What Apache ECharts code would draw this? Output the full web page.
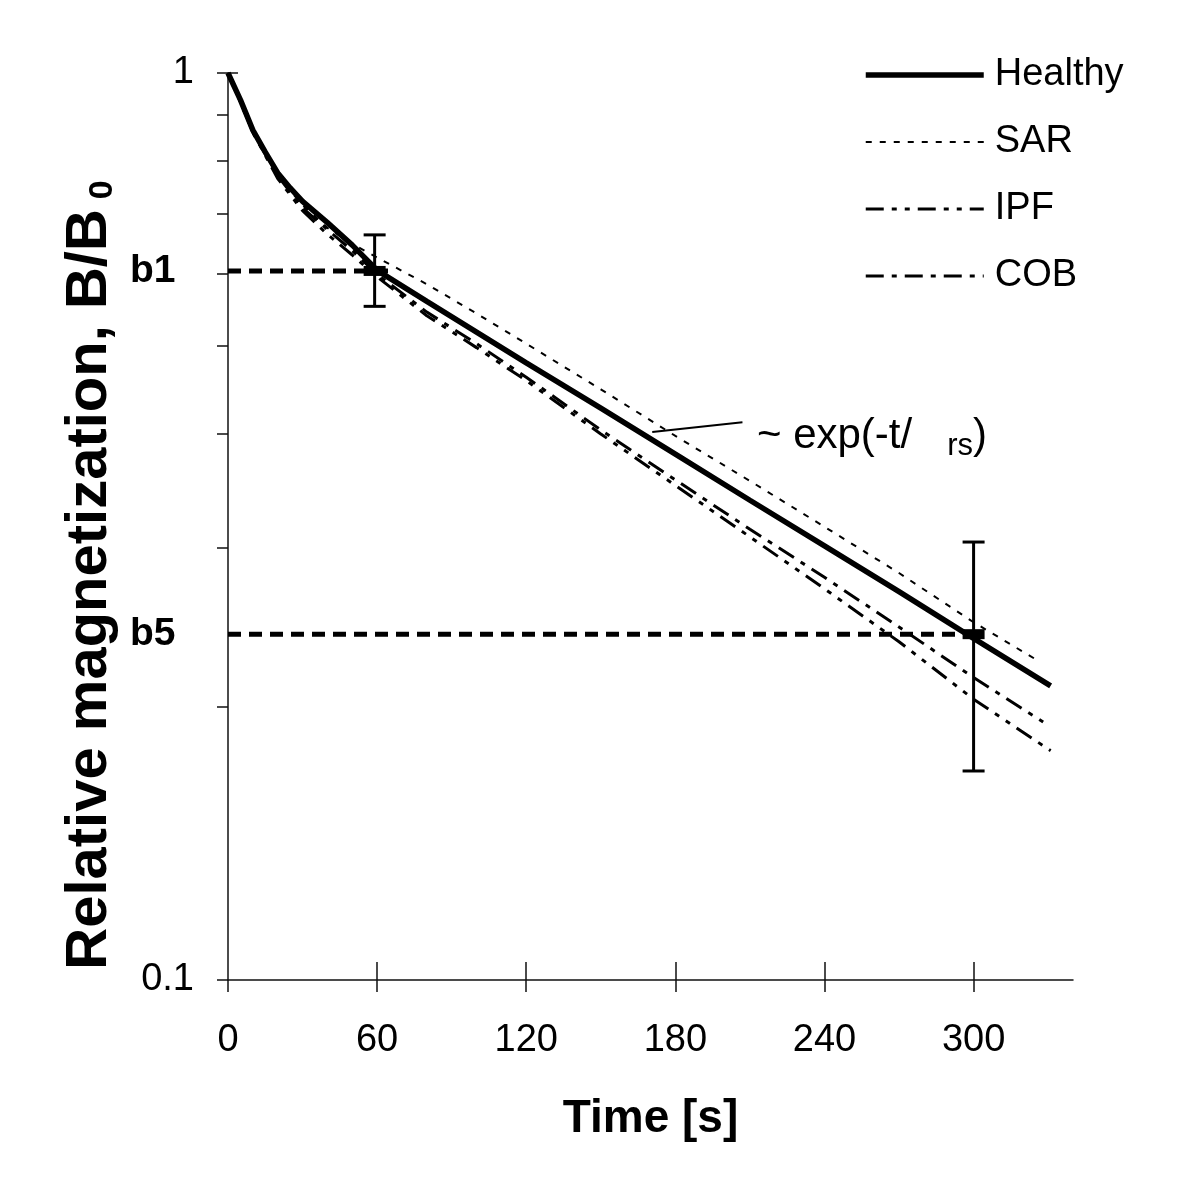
<!DOCTYPE html>
<html><head><meta charset="utf-8">
<script src="https://cdn.jsdelivr.net/npm/echarts@6/dist/echarts.min.js"></script>
<style>html,body{margin:0;padding:0;background:#fff}#c{width:1200px;height:1200px}</style>
</head><body><div id="c"></div>
<script>
// ---- data ----
const tHealthy = [0,5,10,15,20,25,30,40,50,60,80,100,120,150,180,210,240,270,300,331];
const healthy  = [1,0.934,0.865,0.818,0.776,0.747,0.722,0.684,0.646,0.606,0.560,0.518,0.479,0.427,0.380,0.338,0.301,0.268,0.238,0.211];
const tSAR = [0,5,10,20,30,40,50,60,80,100,120,150,180,210,240,270,300,327];
const sar  = [1,0.93,0.86,0.77,0.715,0.675,0.648,0.626,0.585,0.543,0.503,0.448,0.398,0.355,0.316,0.281,0.248,0.224];
const tIPF = [0,5,10,20,30,40,50,60,80,100,120,150,180,210,240,270,300,331];
const ipf  = [1,0.93,0.86,0.765,0.705,0.664,0.630,0.596,0.540,0.498,0.458,0.400,0.351,0.308,0.270,0.236,0.204,0.179];
const tCOB = [0,5,10,20,30,40,50,60,80,100,120,150,180,210,240,270,300,328];
const cob  = [1,0.93,0.86,0.77,0.71,0.672,0.637,0.600,0.545,0.503,0.462,0.404,0.356,0.314,0.278,0.245,0.2155,0.1925];

const seriesNames = ['Healthy','SAR','IPF','COB'];
const xTicks = [0,60,120,180,240,300];
const yMinorTicks = [0.1,0.2,0.3,0.4,0.5,0.6,0.7,0.8,0.9,1];
const yLabels = [0.1,1];

// reference levels b1 / b5
const bNames = ['b1','b5'];
const bT     = [59,300];
const bVal   = [0.605,0.2406];
const bEndT  = [66,304];

// error bars
const errT    = [59,300];
const errLow  = [0.553,0.170];
const errHigh = [0.663,0.304];

// annotation pointer
const annoT = [170.7,207];
const annoY = [0.402,0.412];
const annoText = '~ exp(-t/   {s|rs})';

const FONT = 'Liberation Sans, Arial, sans-serif';
const zip = (a,b)=>a.map((v,i)=>[v,b[i]]);

const chart = echarts.init(document.getElementById('c'), null, {renderer:'canvas'});

const series = [
  {name:'Healthy', type:'line', data:zip(tHealthy,healthy), symbol:'none', smooth:false, color:'#000',
   lineStyle:{color:'#000', width:5.5, type:'solid'}, z:5},
  {name:'SAR', type:'line', data:zip(tSAR,sar), symbol:'none', smooth:false, color:'#000',
   lineStyle:{color:'#000', width:2, type:[6,8]}, z:4},
  {name:'IPF', type:'line', data:zip(tIPF,ipf), symbol:'none', smooth:false, color:'#000',
   lineStyle:{color:'#000', width:3, type:[18,8,5,8,5,8]}, z:4},
  {name:'COB', type:'line', data:zip(tCOB,cob), symbol:'none', smooth:false, color:'#000',
   lineStyle:{color:'#000', width:3, type:[18,8,5,8]}, z:4}
];

bNames.forEach((nm,i)=>{
  series.push({
    name:nm+'-level', type:'line', symbol:'none', silent:true, z:6, color:'#000',
    data:[[0,bVal[i]],[bEndT[i],bVal[i]]],
    lineStyle:{color:'#000', width:5, type:[13,8]}
  });
});

// b1 / b5 text labels at the axis
series.push({
  name:'level-labels', type:'scatter', symbol:'circle', symbolSize:1, silent:true, z:8,
  itemStyle:{color:'rgba(0,0,0,0)', opacity:1},
  data:bVal.map((v,i)=>({value:[0,v], name:bNames[i]})),
  label:{show:true, position:'left', distance:52, formatter:'{b}',
    fontFamily:FONT, fontWeight:'bold', fontSize:39, color:'#000'}
});

series.push({
  name:'levels', type:'scatter', symbol:'rect', symbolSize:[22,10], z:7,
  itemStyle:{color:'#000', opacity:1}, data:zip(bT,bVal)
});

series.push({
  name:'errors', type:'custom', z:7,
  encode:{x:0, y:[1,2]},
  data:errT.map((t,i)=>[t,errLow[i],errHigh[i]]),
  renderItem:function(params, api){
    const x=api.value(0), lo=api.value(1), hi=api.value(2);
    const a=api.coord([x,lo]), b=api.coord([x,hi]);
    const w=11, st={stroke:'#000', lineWidth:3};
    return {type:'group', children:[
      {type:'line', shape:{x1:a[0],y1:a[1],x2:b[0],y2:b[1]}, style:st},
      {type:'line', shape:{x1:a[0]-w,y1:a[1],x2:a[0]+w,y2:a[1]}, style:st},
      {type:'line', shape:{x1:b[0]-w,y1:b[1],x2:b[0]+w,y2:b[1]}, style:st}
    ]};
  }
});

series.push({
  name:'annotation', type:'line', symbol:'none', silent:true, z:6, color:'#000',
  data:zip(annoT,annoY),
  lineStyle:{color:'#000', width:2}
});
series.push({
  name:'annotation-text', type:'scatter', symbol:'circle', symbolSize:1, silent:true, z:8,
  itemStyle:{color:'rgba(0,0,0,0)', opacity:1},
  data:[[annoT[1],annoY[1]]],
  label:{show:true, position:'right', distance:14, offset:[0,14], formatter:annoText,
    fontFamily:FONT, fontSize:42, color:'#000',
    rich:{s:{fontFamily:FONT, fontSize:31, color:'#000', padding:[20,0,0,0]}}}
});

const option = {
  backgroundColor:'#fff',
  animation:false,
  grid:{left:228, right:127, top:73, bottom:220},
  legend:{
    data:seriesNames, orient:'vertical', left:858, top:51, itemGap:29,
    itemWidth:118, itemHeight:14,
    itemStyle:{opacity:0},
    lineStyle:{width:'inherit', type:'inherit', color:'#000'},
    textStyle:{fontFamily:FONT, fontSize:38, color:'#000', lineHeight:38, padding:[0,0,0,6]}
  },
  xAxis:[{
    type:'value', min:0, max:340, interval:60,
    name:'Time [s]', nameLocation:'middle', nameGap:116,
    nameTextStyle:{fontFamily:FONT, fontWeight:'bold', fontSize:46, color:'#000'},
    axisLine:{show:true, onZero:false, lineStyle:{color:'#111', width:1.5}},
    axisTick:{show:true, inside:false, length:12, customValues:xTicks, lineStyle:{color:'#111', width:1.5}},
    axisLabel:{show:true, customValues:xTicks, margin:42, fontFamily:FONT, fontSize:38, color:'#000'},
    splitLine:{show:false}
  },{
    type:'value', min:0, max:340, position:'bottom',
    axisLine:{show:false}, axisLabel:{show:false}, splitLine:{show:false},
    axisTick:{show:true, inside:true, length:18, customValues:xTicks.slice(1), lineStyle:{color:'#111', width:1.5}}
  }],
  yAxis:[{
    type:'log', logBase:10, min:0.1, max:1,
    axisLine:{show:true, onZero:false, lineStyle:{color:'#111', width:1.5}},
    axisTick:{show:true, inside:false, length:11, customValues:yMinorTicks, lineStyle:{color:'#111', width:1.5}},
    axisLabel:{show:true, customValues:yLabels, margin:34, fontFamily:FONT, fontSize:38, color:'#000',
      formatter:(v)=> String(+v.toPrecision(3))},
    splitLine:{show:false}, minorTick:{show:false}
  },{
    type:'log', logBase:10, min:0.1, max:1, position:'left',
    axisLine:{show:false}, axisLabel:{show:false}, splitLine:{show:false},
    axisTick:{show:true, inside:true, length:10, customValues:[1], lineStyle:{color:'#111', width:1.5}}
  }],
  graphic:[{
    type:'text', x:90, y:575, rotation:Math.PI/2,
    style:{
      text:'Relative magnetization, B/B{s|0}',
      fill:'#000', font:'bold 58px Liberation Sans, Arial, sans-serif',
      align:'center', verticalAlign:'middle',
      rich:{s:{fontSize:34, fontWeight:'bold', fontFamily:FONT, fill:'#000', padding:[26,0,0,10]}}
    }
  }],
  series:series
};
chart.setOption(option);
</script>
</body></html>
